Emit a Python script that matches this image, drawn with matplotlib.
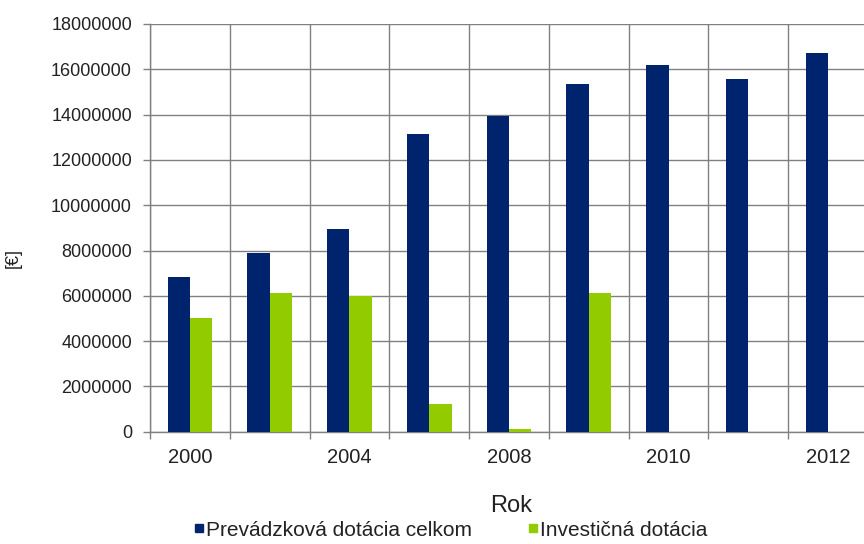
import numpy as np
import matplotlib
matplotlib.use('Agg')
import matplotlib.pyplot as plt
from matplotlib.lines import Line2D

years = ['2000', '2002', '2004', '2006', '2008', '2009', '2010', '2011', '2012']
shown_labels = ['2000', '', '2004', '', '2008', '', '2010', '', '2012']
prevadzkova = [6840000, 7890000, 8970000, 13160000, 13940000, 15350000, 16190000, 15560000, 16700000]
investicna = [5010000, 6120000, 5970000, 1230000, 100000, 6120000, 0, 0, 0]
yticks = np.arange(0, 18000001, 2000000)

blue = '#00236e'
green = '#92cc00'
grid_c = '#808080'

plt.rcParams['font.family'] = ['Liberation Sans', 'DejaVu Sans']

fig = plt.figure(figsize=(8.64, 5.44), dpi=100)
ax = fig.add_axes([150 / 864, (544 - 431.7) / 544, 718 / 864, 407.7 / 544])

x = np.arange(len(years))
w = 0.28
ax.bar(x - w / 2, prevadzkova, w, color=blue, zorder=3)
ax.bar(x + w / 2, investicna, w, color=green, zorder=3)

ax.set_xlim(-0.5, len(years) - 0.5)
ax.set_ylim(0, 18000000)
ax.set_yticks(yticks)
ax.set_yticklabels([str(v) for v in yticks], fontsize=13, color='#222222')
ax.set_xticks(x)
ax.set_xticklabels(shown_labels, fontsize=14.5, color='#222222')
ax.tick_params(axis='x', length=0, pad=12)
ax.tick_params(axis='y', length=5, width=1, color=grid_c, pad=8)

# category boundaries: grid lines plus tick marks below axis
ax.set_xticks(np.arange(-0.5, len(years) + 0.5, 1), minor=True)
ax.tick_params(axis='x', which='minor', length=5, width=1, color=grid_c)
ax.grid(True, which='minor', axis='x', color=grid_c, lw=1, zorder=0)
ax.grid(True, which='major', axis='y', color=grid_c, lw=1, zorder=0)

for s in ['top', 'right']:
    ax.spines[s].set_visible(False)
for s in ['left', 'bottom']:
    ax.spines[s].set_color(grid_c)
    ax.spines[s].set_linewidth(1)

fig.text(13 / 864, 1 - 258 / 544, '[€]', rotation=90, ha='center', va='center',
         fontsize=13, color='#222222')
fig.text(511 / 864, 1 - 506 / 544, 'Rok', ha='center', va='center',
         fontsize=17, color='#222222')

handles = [Line2D([], [], marker='s', ls='', color=blue, markersize=5.5),
           Line2D([], [], marker='s', ls='', color=green, markersize=5.5)]
fig.legend(handles, ['Prevádzková dotácia celkom', 'Investičná dotácia'],
           loc='center', bbox_to_anchor=(450 / 864, 1 - 530 / 544), ncol=2,
           frameon=False, fontsize=15, handletextpad=0.05, columnspacing=2.6,
           handlelength=0.6, borderpad=0, labelcolor='#222222')

fig.savefig('out.png', dpi=100)
